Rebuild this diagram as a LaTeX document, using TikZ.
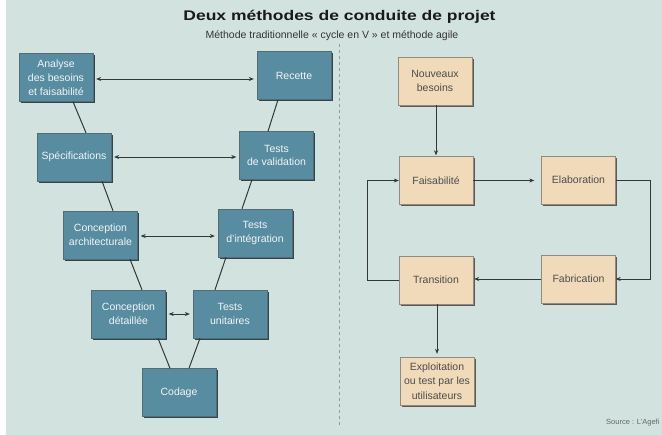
\documentclass[tikz,border=0pt]{standalone}
\usepackage{fontspec}
\setmainfont{Liberation Sans}
\newfontfamily\boxfont{Liberation Sans}
\newfontfamily\titlefont{Liberation Sans}[FakeStretch=1.25]
\usetikzlibrary{arrows.meta,shadows}
\definecolor{bg}{RGB}{210,227,223}
\definecolor{vboxc}{RGB}{88,140,160}
\definecolor{vshadow}{RGB}{45,70,80}
\definecolor{tboxc}{RGB}{240,218,186}
\definecolor{tshadow}{RGB}{95,90,80}
\definecolor{linec}{RGB}{50,55,55}
\begin{document}
\begin{tikzpicture}[x=1pt,y=-1pt,
  vbox/.style={draw=vshadow!80, line width=0.4pt, fill=vboxc, text=white!92!vboxc,
    minimum width=74pt, minimum height=48pt, inner sep=0pt, align=center,
    font=\boxfont\fontsize{10.5}{13.8}\selectfont,
    drop shadow={shadow xshift=1.6pt, shadow yshift=-1.6pt, fill=vshadow, opacity=1}},
  tbox/.style={draw=tshadow!70, line width=0.4pt, fill=tboxc, text=black!70,
    minimum width=74pt, minimum height=48pt, inner sep=0pt, align=center,
    font=\boxfont\fontsize{10.5}{14.5}\selectfont,
    drop shadow={shadow xshift=1.6pt, shadow yshift=-1.6pt, fill=tshadow, opacity=1}},
  vline/.style={draw=linec, line width=1pt},
  harrow/.style={draw=linec, line width=0.6pt, {Stealth[length=5pt,width=4pt]}-{Stealth[length=5pt,width=4pt]}, shorten <=3pt, shorten >=3pt},
  rarrow/.style={draw=linec, line width=0.6pt, -{Stealth[length=5pt,width=4pt]}}
]
\useasboundingbox (0,0) rectangle (662,435);
\fill[white] (0,0) rectangle (662,435);
\fill[bg] (6,0) rectangle (662,435);

% titles
\node[font=\titlefont\bfseries\fontsize{14}{17}\selectfont, text=black!90] (title) at (339.5,17) {Deux méthodes de conduite de projet};
\node[font=\boxfont\fontsize{10.5}{12}\selectfont, text=black!80] (sub) at (332,36) {Méthode traditionnelle «~cycle en V~» et méthode agile};

% divider
\draw[draw=gray!80, line width=0.5pt, dash pattern=on 3pt off 3pt] (339,44) -- (339,425);

% V cycle
\node[vbox] (ana) at (56,77.5) {Analyse\\des besoins\\et faisabilité};
\node[vbox] (rec) at (294,75.5) {Recette};
\node[vbox] (spe) at (74,157) {Spécifications};
\node[vbox] (val) at (276.5,155.5) {Tests\\de validation};
\node[vbox] (arc) at (100.5,235) {Conception\\architecturale};
\node[vbox] (int) at (255,233) {Tests\\d’intégration};
\node[vbox] (det) at (128.5,314) {Conception\\détaillée};
\node[vbox] (uni) at (230,314) {Tests\\unitaires};
\node[vbox] (cod) at (179,392.5) {Codage};

\draw[vline] ([xshift=17pt]ana.south) -- ([xshift=12pt]spe.north);
\draw[vline] ([xshift=28pt]spe.south) -- ([xshift=12.5pt]arc.north);
\draw[vline] ([xshift=29.5pt]arc.south) -- ([xshift=13.5pt]det.north);
\draw[vline] ([xshift=29.5pt]det.south) -- ([xshift=-9pt]cod.north);
\draw[vline] ([xshift=10pt]cod.north) -- ([xshift=-30pt]uni.south);
\draw[vline] ([xshift=-15pt]uni.north) -- ([xshift=-29pt]int.south);
\draw[vline] ([xshift=-13pt]int.north) -- ([xshift=-24.5pt]val.south);
\draw[vline] ([xshift=-8.5pt]val.north) -- ([xshift=-16pt]rec.south);

\draw[harrow] ([yshift=-1.5pt]ana.east) -- ([yshift=-1.5pt]ana.east -| rec.west);
\draw[harrow] (spe.east) -- (spe.east -| val.west);
\draw[harrow] ([yshift=-1pt]arc.east) -- ([yshift=-1pt]arc.east -| int.west);
\draw[harrow] (det.east) -- (det.east -| uni.west);

% agile
\node[tbox] (nb) at (435,81) {Nouveaux\\besoins};
\node[tbox] (fai) at (436,180.5) {Faisabilité};
\node[tbox] (ela) at (578.5,180) {Elaboration};
\node[tbox] (tra) at (436,280) {Transition};
\node[tbox] (fab) at (578.5,279) {Fabrication};
\node[tbox] (exp) at (437,381) {Exploitation\\ou test par les\\utilisateurs};

\draw[rarrow, shorten >=1pt] ([xshift=1pt]nb.south) -- ([xshift=1pt]nb.south |- fai.north);
\draw[rarrow, shorten >=7pt] (fai.east) -- (fai.east -| ela.west);
\draw[rarrow] (ela.east) -- ++(35,0) |- (fab.east);
\draw[rarrow, shorten >=1pt] (fab.west) -- (fab.west -| tra.east);
\draw[rarrow] (tra.west) -- ++(-32,0) |- (fai.west);
\draw[rarrow, shorten >=3pt] ([xshift=1pt]tra.south) -- ([xshift=1pt]tra.south |- exp.north);

\node[anchor=east, font=\boxfont\fontsize{7.5}{8}\selectfont, text=black!60] (src) at (663,423) {Source : L’Agefi};
\end{tikzpicture}
\end{document}
